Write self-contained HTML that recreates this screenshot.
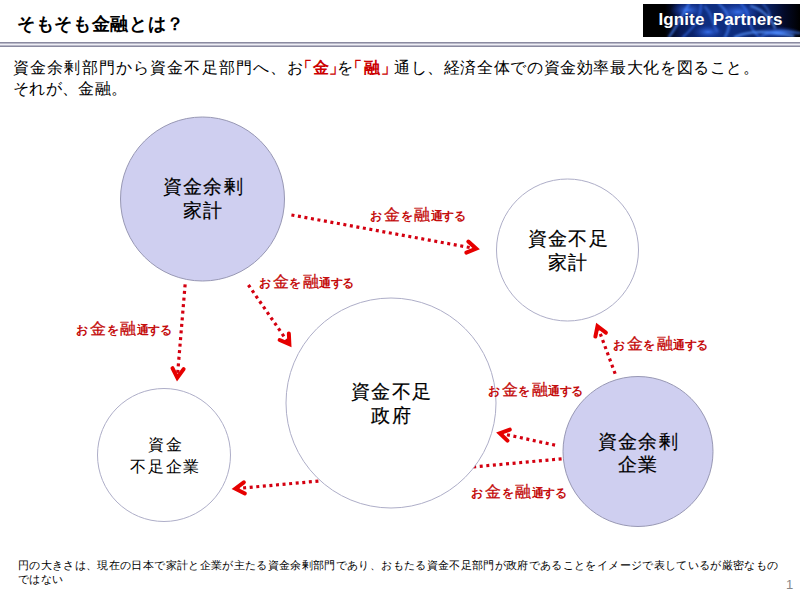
<!DOCTYPE html>
<html lang="ja"><head><meta charset="utf-8"><title>そもそも金融とは？</title>
<style>
html,body{margin:0;padding:0;background:#fff;}
body{width:800px;height:600px;position:relative;overflow:hidden;font-family:"Liberation Sans",sans-serif;color:#000;}
.abs{position:absolute;white-space:nowrap;}
#title{left:17px;top:12px;font-size:18px;font-weight:bold;letter-spacing:0.67px;}
#logo{position:absolute;left:642.5px;top:4px;width:157px;height:32.5px;background:#000;overflow:hidden;}
#logo .t{position:absolute;left:16px;top:6px;color:#fff;font-weight:bold;font-size:17px;letter-spacing:0.1px;word-spacing:3.5px;}
#rule{position:absolute;left:0;top:42px;width:800px;height:5px;}
.intro{font-size:16px;}
.red{color:#cc0000;font-weight:bold;}
.ct{position:absolute;text-align:center;width:200px;line-height:1;white-space:nowrap;-webkit-text-stroke:0.2px #000;}
.ct.thin{-webkit-text-stroke:0;}
.lbl{position:absolute;white-space:nowrap;color:#c40c0c;font-weight:bold;font-size:12px;line-height:16px;letter-spacing:0.3px;}
.lbl i{font-style:normal;letter-spacing:-0.5px;}
.lbl b{font-size:16px;margin:0 0.3px 0 1.2px;font-weight:normal;-webkit-text-stroke:0.3px #c40c0c;}
#note{left:18px;top:557.5px;font-size:11px;line-height:14px;letter-spacing:0.35px;}
#pg{left:786px;top:577px;font-size:13px;color:#888;}
svg{position:absolute;left:0;top:0;}
</style></head><body>
<div class="abs" id="title">そもそも金融とは？</div>
<div id="logo">
<svg width="157" height="33" viewBox="0 0 157 33">
<defs>
<linearGradient id="lg" x1="0" y1="0" x2="1" y2="0">
<stop offset="0" stop-color="#000"/><stop offset="0.14" stop-color="#000"/><stop offset="0.24" stop-color="#081a58"/><stop offset="0.4" stop-color="#0e2e80"/><stop offset="0.62" stop-color="#0e2c7c"/><stop offset="0.8" stop-color="#081e5c"/><stop offset="0.9" stop-color="#030a28"/><stop offset="1" stop-color="#000"/>
</linearGradient>
<radialGradient id="g1" cx="0.5" cy="0.5" r="0.5"><stop offset="0" stop-color="#3a74f0" stop-opacity="0.9"/><stop offset="1" stop-color="#1a3cb0" stop-opacity="0"/></radialGradient>
<filter id="bl" x="-20%" y="-50%" width="140%" height="200%"><feGaussianBlur stdDeviation="1"/></filter>
</defs>
<rect width="157" height="33" fill="url(#lg)"/>
<ellipse cx="135" cy="29" rx="24" ry="7" fill="url(#g1)"/>
<ellipse cx="45" cy="6" rx="18" ry="9" fill="url(#g1)"/>
<ellipse cx="95" cy="8" rx="22" ry="10" fill="url(#g1)"/>
<ellipse cx="65" cy="28" rx="16" ry="7" fill="url(#g1)"/>
<g filter="url(#bl)" fill="none" stroke-linecap="round">
<path d="M26,33 C34,22 40,10 46,0" stroke="#4a86ff" stroke-width="2" opacity="0.8"/>
<path d="M40,33 C50,24 58,16 58,0" stroke="#3a78ff" stroke-width="1.8" opacity="0.7"/>
<path d="M76,0 C86,8 90,20 82,33" stroke="#4a86ff" stroke-width="2.2" opacity="0.7"/>
<path d="M98,0 C110,10 102,22 116,33" stroke="#3a78ff" stroke-width="1.8" opacity="0.7"/>
<path d="M108,2 C120,6 128,14 132,24" stroke="#5a96ff" stroke-width="2" opacity="0.8"/>
<path d="M92,33 C108,26 126,27 150,32" stroke="#5a96ff" stroke-width="2.2" opacity="0.85"/>
<path d="M118,33 C130,25 140,27 157,29" stroke="#4a86ff" stroke-width="1.8" opacity="0.7"/>
<path d="M62,3 C70,10 68,18 74,27" stroke="#3a70e8" stroke-width="2.6" opacity="0.6"/>
<path d="M120,0 C126,6 128,10 126,18" stroke="#4a86ff" stroke-width="1.6" opacity="0.6"/>
</g>
</svg>
<div class="t">Ignite Partners</div>
</div>
<svg id="rule" width="800" height="5" viewBox="0 0 800 5">
<rect x="0" y="0" width="800" height="1" fill="#8a8aa0"/>
<rect x="0" y="1" width="800" height="1" fill="#b8b8c8"/>
<rect x="0" y="2" width="800" height="1" fill="#eeeef4"/>
<rect x="0" y="3" width="800" height="1" fill="#b8b8c8"/>
<rect x="0" y="4" width="800" height="1" fill="#8a8aa0"/>
</svg>
<div class="abs intro" style="top:58px;left:13px;letter-spacing:1.15px">資金余剰部門から資金不足部門へ、お</div>
<div class="abs intro red" style="top:58px;left:296px;letter-spacing:0.5px">「金」</div>
<div class="abs intro" style="top:58px;left:337px">を</div>
<div class="abs intro red" style="top:58px;left:346px;letter-spacing:1.5px">「融」</div>
<div class="abs intro" style="top:58px;left:394px;letter-spacing:0.62px">通し、経済全体での資金効率最大化を図ること。</div>
<div class="abs intro" style="top:79px;left:13px;letter-spacing:0.33px">それが、金融。</div>
<svg width="800" height="600" viewBox="0 0 800 600">
<line x1="561.59" y1="458.85" x2="236.88" y2="488.55" stroke="#d40010" stroke-width="3.2" stroke-dasharray="3 3.6"/><polyline points="243.84,482.29 235.39,488.69 244.86,493.45" fill="none" stroke="#e60000" stroke-width="4" stroke-linejoin="miter" stroke-linecap="round"/>
<circle cx="202.5" cy="199" r="82.0" fill="#cfcff0" stroke="#9898b4" stroke-width="1"/>
<circle cx="567.5" cy="250" r="71.0" fill="#ffffff" stroke="#aeaec8" stroke-width="1"/>
<circle cx="391" cy="403" r="105.0" fill="#ffffff" stroke="#aeaec8" stroke-width="1"/>
<circle cx="164" cy="455" r="66.5" fill="#ffffff" stroke="#aeaec8" stroke-width="1"/>
<circle cx="638" cy="451.5" r="75.0" fill="#cfcff0" stroke="#9898b4" stroke-width="1"/>
<line x1="291.43" y1="214.96" x2="474.68" y2="248.42" stroke="#d40010" stroke-width="3.2" stroke-dasharray="3 3.6"/><polyline points="466.30,252.58 476.16,248.69 468.31,241.56" fill="none" stroke="#e60000" stroke-width="4" stroke-linejoin="miter" stroke-linecap="round"/>
<line x1="185.13" y1="284.41" x2="177.41" y2="376.12" stroke="#d40010" stroke-width="3.2" stroke-dasharray="3 3.6"/><polyline points="172.46,368.17 177.29,377.61 183.62,369.11" fill="none" stroke="#e60000" stroke-width="4" stroke-linejoin="miter" stroke-linecap="round"/>
<line x1="248.39" y1="284.98" x2="288.51" y2="342.97" stroke="#d40010" stroke-width="3.2" stroke-dasharray="3 3.6"/><polyline points="279.64,339.99 289.37,344.20 288.85,333.62" fill="none" stroke="#e60000" stroke-width="4" stroke-linejoin="miter" stroke-linecap="round"/>
<line x1="615.16" y1="373.80" x2="598.01" y2="327.59" stroke="#d40010" stroke-width="3.2" stroke-dasharray="3 3.6"/><polyline points="605.87,332.68 597.48,326.19 595.37,336.57" fill="none" stroke="#e60000" stroke-width="4" stroke-linejoin="miter" stroke-linecap="round"/>
<line x1="555.06" y1="445.14" x2="501.29" y2="433.53" stroke="#d40010" stroke-width="3.2" stroke-dasharray="3 3.6"/><polyline points="509.80,429.64 499.82,433.22 507.44,440.59" fill="none" stroke="#e60000" stroke-width="4" stroke-linejoin="miter" stroke-linecap="round"/>
</svg>
<div class="ct" style="left:102.0px;top:177.5px;font-size:18.5px;letter-spacing:1.4px;padding-left:1.4px">資金余剰</div>
<div class="ct" style="left:102.0px;top:201.5px;font-size:18.5px;letter-spacing:1.4px;padding-left:1.4px">家計</div>
<div class="ct" style="left:467.0px;top:230px;font-size:18.5px;letter-spacing:1.4px;padding-left:1.4px">資金不足</div>
<div class="ct" style="left:467.0px;top:254px;font-size:18.5px;letter-spacing:1.4px;padding-left:1.4px">家計</div>
<div class="ct" style="left:290.5px;top:382.5px;font-size:18.5px;letter-spacing:1.4px;padding-left:1.4px">資金不足</div>
<div class="ct" style="left:290.5px;top:406.5px;font-size:18.5px;letter-spacing:1.4px;padding-left:1.4px">政府</div>
<div class="ct thin" style="left:64.0px;top:437px;font-size:15.5px;letter-spacing:1.6px;padding-left:1.6px">資金</div>
<div class="ct thin" style="left:64.0px;top:459px;font-size:15.5px;letter-spacing:1.6px;padding-left:1.6px">不足企業</div>
<div class="ct" style="left:537.0px;top:432.5px;font-size:18.5px;letter-spacing:1.4px;padding-left:1.4px">資金余剰</div>
<div class="ct" style="left:537.0px;top:456px;font-size:18.5px;letter-spacing:1.4px;padding-left:1.4px">企業</div>

<div class="lbl" style="left:370.4px;top:207.2px">お<b>金</b>を<b>融</b><i>通する</i></div>
<div class="lbl" style="left:259.1px;top:274.2px">お<b>金</b>を<b>融</b><i>通する</i></div>
<div class="lbl" style="left:76.4px;top:321.2px">お<b>金</b>を<b>融</b><i>通する</i></div>
<div class="lbl" style="left:613.2px;top:335.6px">お<b>金</b>を<b>融</b><i>通する</i></div>
<div class="lbl" style="left:488.2px;top:381.9px">お<b>金</b>を<b>融</b><i>通する</i></div>
<div class="lbl" style="left:471.4px;top:483.5px">お<b>金</b>を<b>融</b><i>通する</i></div>

<div class="abs" id="note">円の大きさは、現在の日本で家計と企業が主たる資金余剰部門であり、おもたる資金不足部門が政府であることをイメージで表しているが厳密なもの<br>ではない</div>
<div class="abs" id="pg">1</div>
</body></html>
